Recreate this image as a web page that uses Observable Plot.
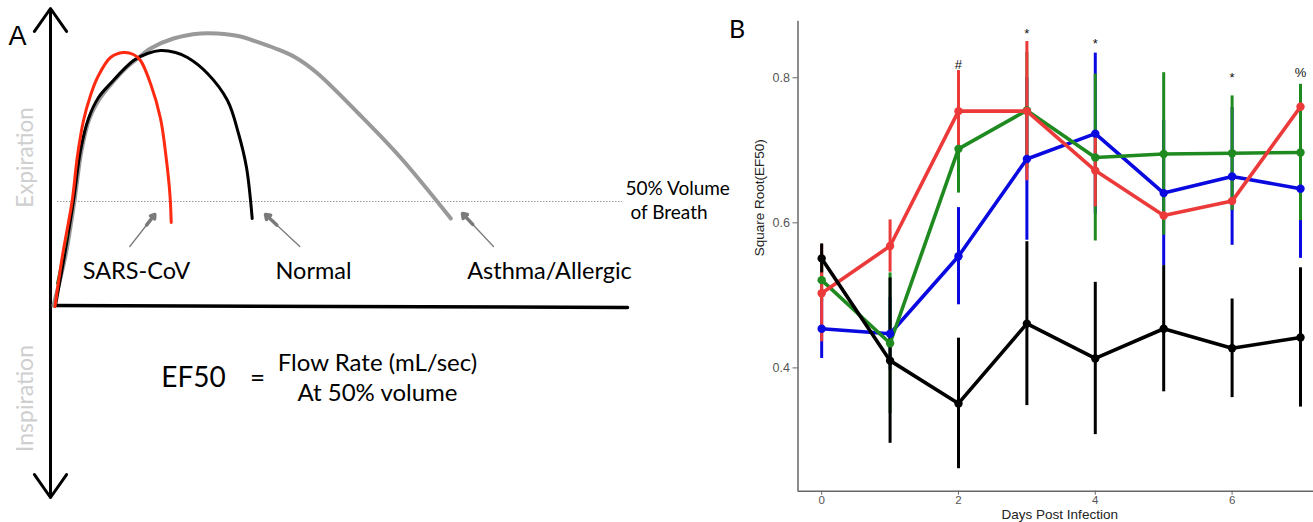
<!DOCTYPE html>
<html><head><meta charset="utf-8">
<script src="https://cdn.jsdelivr.net/npm/d3@7"></script>
<script src="https://cdn.jsdelivr.net/npm/@observablehq/plot@0.6"></script>
<style>
html,body{margin:0;padding:0;background:#fff;}
#wrap{position:relative;width:1313px;height:522px;overflow:hidden;background:#fff;}
#pa{position:absolute;left:0;top:0;}
#pb{position:absolute;left:732px;top:0;}
</style></head><body><div id="wrap"><div id="pa"></div><div id="pb"></div></div>
<script>
// ---------- Panel A: schematic flow-volume loops (volume, flow units) ----------
const sarsVol   = [2.5, 10, 19.7, 25, 31, 38, 45, 58, 71, 81, 88, 98, 108, 114, 117.5, 118.7];
const sarsFlow  = [-1, 50, 105, 150, 185, 210, 228, 248, 253, 251, 245, 222, 187, 145, 110, 83];
const normalVol  = [3, 12, 21, 28, 36, 46, 58, 81, 95, 108, 123, 135, 155, 175, 186, 194, 199.7];
const normalFlow = [0, 50, 105, 155, 187, 208, 222, 245, 252, 255, 253, 248, 232, 205, 172, 138, 87];
const asthmaVol  = [1, 13, 22, 29, 37, 48, 60, 73, 85, 98, 121, 148, 165, 188, 200.5, 223, 243, 264, 306, 348, 398.3];
const asthmaFlow = [0, 50, 105, 155, 187, 208, 223, 237, 247, 257, 267, 272, 272, 269, 265, 257, 248, 233, 192, 148, 87];
const greenStubVol = [4.5, 15];
const greenStubFlow = [22, 72];
const curveNames = ["Asthma/Allergic", "Normal", "SARS-CoV"];
const labelVol = [497, 261, 84];
const labelFlow = [34, 34, 34];
const arrowFromVol = [441, 247.3, 77.3];
const arrowFromFlow = [59, 59, 59];
const arrowToVol = [410, 213, 102.3];
const arrowToFlow = [92, 91, 91];
const halfVolumeFlow = 104;
const halfVolumeExtent = [5, 570];
const axisVol = -2;
const axisFlowTop = 297, axisFlowBottom = -192, axisFlowMid = 50;
const baseline = {vol: [0.6, 575], flow: [0, -2]};

const rows = (vol, flow) => vol.map((v, i) => ({vol: v, flow: flow[i]}));
const asthma = rows(asthmaVol, asthmaFlow);
const normal = rows(normalVol, normalFlow);
const sars = rows(sarsVol, sarsFlow);
const greenStub = rows(greenStubVol, greenStubFlow);
const arrows = arrowFromVol.map((v, i) => ({x1: v, y1: arrowFromFlow[i], x2: arrowToVol[i], y2: arrowToFlow[i],
  hx1: arrowToVol[i] - (arrowToVol[i] - v) * 0.33, hy1: arrowToFlow[i] - (arrowToFlow[i] - arrowFromFlow[i]) * 0.33}));
const labels = curveNames.map((n, i) => ({name: n, vol: labelVol[i], flow: labelFlow[i]}));

const fontA = "Lato, 'Open Sans', sans-serif";
const panelA = Plot.plot({
  width: 732, height: 522,
  marginLeft: 0, marginRight: 0, marginTop: 0, marginBottom: 0,
  x: {domain: [-52, 680], axis: null},
  y: {domain: [-217, 305], axis: null},
  style: {fontFamily: fontA, background: "white", overflow: "visible"},
  marks: [
    Plot.ruleY([halfVolumeFlow], {x1: halfVolumeExtent[0], x2: halfVolumeExtent[1], stroke: "#9a9a9a", strokeWidth: 1, strokeDasharray: "1.5,1.5"}),
    Plot.line([{vol: baseline.vol[0], flow: baseline.flow[0]}, {vol: baseline.vol[1], flow: baseline.flow[1]}], {x: "vol", y: "flow", stroke: "black", strokeWidth: 3.5}),
    Plot.arrow([{a: axisVol}], {x1: axisVol, y1: axisFlowMid, x2: axisVol, y2: axisFlowTop, stroke: "black", strokeWidth: 3, headLength: 14, headAngle: 70}),
    Plot.arrow([{a: axisVol}], {x1: axisVol, y1: axisFlowMid, x2: axisVol, y2: axisFlowBottom, stroke: "black", strokeWidth: 3, headLength: 14, headAngle: 70}),
    Plot.line(asthma, {x: "vol", y: "flow", curve: "catmull-rom", stroke: "#999999", strokeWidth: 4}),
    Plot.line(normal, {x: "vol", y: "flow", curve: "catmull-rom", stroke: "black", strokeWidth: 3}),
    Plot.line(greenStub, {x: "vol", y: "flow", stroke: "#1a7a1a", strokeWidth: 2}),
    Plot.line(sars, {x: "vol", y: "flow", curve: "catmull-rom", stroke: "#ff2a0f", strokeWidth: 3}),
    Plot.arrow(arrows, {x1: "x1", y1: "y1", x2: "x2", y2: "y2", stroke: "#7a7a7a", strokeWidth: 1.3, headLength: 0}),
    Plot.arrow(arrows, {x1: "hx1", y1: "hy1", x2: "x2", y2: "y2", stroke: "#7a7a7a", strokeWidth: 3.5, headLength: 13, headAngle: 70}),
    Plot.text(labels, {x: "vol", y: "flow", text: "name", fontSize: 23.5, fill: "black"}),
    Plot.text(["A"], {x: -35, y: 269, text: d => d, fontSize: 27, fill: "black", fontFamily: "'Liberation Sans', Arial, sans-serif"}),
    Plot.text(["Expiration"], {x: -27, y: 148, text: d => d, rotate: -90, fontSize: 22.5, fill: "#cfcfcf"}),
    Plot.text(["Inspiration"], {x: -27, y: -93, text: d => d, rotate: -90, fontSize: 23, fill: "#cfcfcf"}),
    Plot.text(["50% Volume"], {x: 573, y: 117, text: d => d, textAnchor: "start", fontSize: 19, fill: "black"}),
    Plot.text(["of Breath"], {x: 578, y: 93, text: d => d, textAnchor: "start", fontSize: 19, fill: "black"}),
    Plot.text(["EF50"], {x: 141, y: -73, text: d => d, fontSize: 28, fill: "black"}),
    Plot.text(["="], {x: 205, y: -73, text: d => d, fontSize: 26, fill: "black"}),
    Plot.text(["Flow Rate (mL/sec)"], {x: 325, y: -58, text: d => d, fontSize: 24, fill: "black"}),
    Plot.text(["At 50% volume"], {x: 325, y: -88, text: d => d, fontSize: 24, fill: "black"})
  ]
});
document.getElementById("pa").appendChild(panelA);

// ---------- Panel B: Square Root(EF50) by day post infection ----------
const days = [0, 1, 2, 3, 4, 5, 6, 7];
const seriesNames = ["blue", "green", "red", "black"];
const blueMean  = [0.454, 0.447, 0.554, 0.688, 0.723, 0.641, 0.664, 0.647];
const blueErr   = [0.041, 0.050, 0.067, 0.112, 0.111, 0.100, 0.095, 0.096];
const greenMean = [0.521, 0.434, 0.702, 0.755, 0.690, 0.695, 0.696, 0.697];
const greenErr  = [0.030, 0.097, 0.061, 0.080, 0.115, 0.112, 0.079, 0.094];
const redMean   = [0.503, 0.568, 0.754, 0.754, 0.672, 0.610, 0.630, 0.760];
const redErr    = [0.067, 0.036, 0.056, 0.096, 0.050, 0.005, 0.005, 0.005];
const blackMean = [0.551, 0.410, 0.351, 0.461, 0.413, 0.454, 0.427, 0.442];
const blackErr  = [0.020, 0.114, 0.090, 0.113, 0.105, 0.087, 0.068, 0.096];
const sigDays   = [2, 3, 4, 6, 7];
const sigLabels = ["#", "*", "*", "*", "%"];
const sigY      = [0.818, 0.861, 0.847, 0.800, 0.807];
const xTicks = [0, 2, 4, 6];
const yTicks = [0.4, 0.6, 0.8];
const colors = {blue: "#0a0ae0", green: "#1f8a1f", red: "#ec3a3a", black: "#000000"};

const means = {blue: blueMean, green: greenMean, red: redMean, black: blackMean};
const errs = {blue: blueErr, green: greenErr, red: redErr, black: blackErr};
const pts = seriesNames.flatMap(s => days.map((d, i) => ({s, day: d, v: means[s][i], lo: means[s][i] - errs[s][i], hi: means[s][i] + errs[s][i]})));
const sig = sigDays.map((d, i) => ({day: d, t: sigLabels[i], v: sigY[i]}));

const xDom = [-0.346, 7.19], yDom = [0.230, 0.878];
const fontB = "'Liberation Sans', Arial, sans-serif";
const panelB = Plot.plot({
  width: 581, height: 522,
  marginLeft: 65.5, marginRight: 0, marginTop: 20.7, marginBottom: 31.3,
  x: {domain: xDom},
  y: {domain: yDom},
  color: {domain: seriesNames, range: seriesNames.map(s => colors[s])},
  style: {fontFamily: fontB, background: "white", overflow: "visible"},
  marks: [
    Plot.ruleX([xDom[0]], {stroke: "#666", strokeWidth: 1.5}),
    Plot.ruleY([yDom[0]], {stroke: "#666", strokeWidth: 1.5}),
    Plot.axisX({ticks: xTicks, tickSize: 4, tickPadding: 1, fontSize: 11.5, stroke: "#666", fill: "#555", label: null, tickFormat: d => d}),
    Plot.axisY({ticks: yTicks, tickSize: 5, tickPadding: 3, fontSize: 12.5, stroke: "#666", fill: "#555", label: null, tickFormat: d => d.toFixed(1)}),
    ...seriesNames.map(s => Plot.ruleX(pts.filter(p => p.s === s), {x: "day", y1: "lo", y2: "hi", stroke: colors[s], strokeWidth: 3})),
    ...seriesNames.map(s => Plot.line(pts.filter(p => p.s === s), {x: "day", y: "v", stroke: colors[s], strokeWidth: 3.6})),
    ...seriesNames.map(s => Plot.dot(pts.filter(p => p.s === s), {x: "day", y: "v", r: 4.2, fill: colors[s]})),
    Plot.text(sig, {x: "day", y: "v", text: "t", fontSize: 13, fill: "#111"}),
    Plot.text(["Square Root(EF50)"], {frameAnchor: "left", dx: -38, rotate: -90, fontSize: 13.5, fill: "#222"}),
    Plot.text(["Days Post Infection"], {frameAnchor: "bottom", dx: 4, dy: 27.5, lineAnchor: "bottom", fontSize: 13.5, fill: "#222"}),
    Plot.text(["B"], {frameAnchor: "top-left", dx: -69, dy: 8.5, textAnchor: "start", lineAnchor: "middle", fontSize: 25, fill: "black", fontFamily: fontA})
  ]
});
document.getElementById("pb").appendChild(panelB);
</script></body></html>
